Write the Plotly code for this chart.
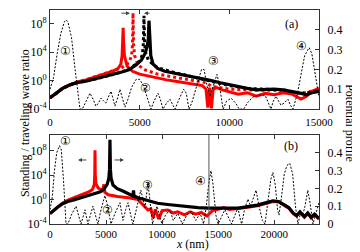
import plotly.graph_objects as go

# ---------------- Panel (a) data ----------------
# potential profile (right axis)
pa_x = [0, 200, 400, 600, 800, 900, 1000, 1200, 1400, 1550, 1670, 1800, 2000, 2230, 2400, 2560, 2700, 2840,
        3000, 3120, 3250, 3400, 3520, 3620, 3750, 3900, 4050, 4180, 4350, 4550, 4800, 5000, 5200, 5400,
        5630, 5800, 6020, 6150, 6300, 6500, 6690, 6850, 6970, 7200, 7450, 7600, 7750, 7900, 8200, 8450,
        8590, 8750, 8920, 9100, 9310, 9450, 9650, 9850, 10100, 10350, 10550, 10800, 11000, 11300, 11600,
        12000, 12200, 12320, 12450, 12600, 12750, 12880, 13050, 13270, 13400, 13550, 13800, 14000, 14200,
        14450, 14600, 14800, 15000]
pa_v = [0.10, 0.16, 0.28, 0.38, 0.44, 0.45, 0.44, 0.36, 0.20, 0.08, 0.0, 0.0, 0.04, 0.08, 0.05, 0.015, 0.03, 0.055,
        0.04, 0.03, 0.06, 0.09, 0.05, 0.015, 0.05, 0.10, 0.05, 0.01, 0.05, 0.11, 0.15, 0.15, 0.12, 0.06,
        0.0, 0.04, 0.08, 0.05, 0.0, 0.03, 0.05, 0.02, 0.0, 0.05, 0.10, 0.08, 0.0, 0.03, 0.12, 0.20,
        0.20, 0.12, 0.065, 0.12, 0.175, 0.12, 0.0, 0.04, 0.055, 0.03, 0.0, 0.0, 0.03, 0.06, 0.07,
        0.07, 0.03, 0.0, 0.04, 0.065, 0.04, 0.02, 0.03, 0.05, 0.02, 0.0, 0.08, 0.18, 0.27,
        0.31, 0.28, 0.17, 0.06]

# black solid ratio (log10 values)
bsa_x = [0, 300, 700, 1100, 1500, 2000, 2500, 3000, 3500, 4000, 4400, 4800, 5100, 5300, 5420, 5480, 5520, 5560,
         5620, 5750, 6000, 6400, 7000, 7500, 8000, 8500, 9000, 9500, 10000, 10500, 11000, 11500, 12000,
         12500, 13000, 13500, 14000, 14300, 14600, 15000]
bsa_e = [-2.4, -1.9, -1.1, -0.6, -0.3, -0.1, 0.2, 0.5, 0.8, 1.2, 1.5, 2.2, 2.9, 3.8, 4.8, 5.8, 8.4, 5.6,
         3.5, 2.3, 1.7, 1.3, 1.0, 0.85, 0.6, 0.3, 0.0, -0.3, -0.6, -0.9, -1.1, -1.3, -1.2,
         -1.2, -1.3, -1.5, -1.8, -2.0, -1.7, -1.5]

# black dotted ratio
bda_x = [0, 300, 700, 1100, 1500, 2000, 2500, 3000, 3500, 4000, 4400, 4800, 5000, 5150, 5200, 5240, 5280,
         5350, 5500, 6000, 6500, 7000, 8000, 9000, 10000, 11000, 12000, 13000, 14000, 15000]
bda_e = [-2.4, -1.9, -1.1, -0.6, -0.3, -0.1, 0.2, 0.5, 0.8, 1.2, 1.6, 2.3, 2.7, 3.6, 5.0, 9.1, 5.0,
         3.7, 2.8, 1.8, 1.4, 1.1, 0.5, -0.1, -0.7, -1.1, -1.2, -1.3, -1.8, -1.5]

# red solid ratio
rsa_x = [0, 300, 700, 1100, 1500, 2000, 2500, 3000, 3500, 3800, 3950, 4020, 4060, 4080, 4100, 4150, 4300,
         4600, 5000, 5500, 6000, 6500, 7000, 7500, 8000, 8500, 8700, 8800, 8900, 9000, 9100, 9300, 9600,
         10000, 10500, 11000, 11500, 12000, 12500, 13000, 13500, 14000, 14300, 14600, 15000]
rsa_e = [-2.4, -1.9, -1.1, -0.6, -0.2, 0.1, 0.5, 0.9, 1.3, 1.7, 2.3, 3.5, 5.5, 7.4, 5.5, 3.5, 2.0,
         1.3, 0.9, 0.6, 0.3, 0.1, -0.1, -0.3, -0.5, -0.7, -1.2, -3.8, -1.0, -3.9, -1.2, -1.0, -1.3,
         -1.6, -1.9, -1.7, -2.2, -1.8, -2.0, -1.7, -1.9, -2.6, -2.2, -1.5, -1.1]

# red dotted ratio
rda_x = [0, 300, 700, 1100, 1500, 2000, 2500, 3000, 3500, 4000, 4400, 4550, 4600, 4630, 4660, 4720, 4900,
         5300, 6000, 7000, 8000, 8700, 9000, 9500, 10000, 11000, 12000, 13000, 14000, 15000]
rda_e = [-2.4, -1.9, -1.1, -0.6, -0.2, 0.1, 0.5, 0.9, 1.3, 1.8, 2.5, 3.5, 5.0, 9.5, 5.0, 3.5, 2.2,
         1.5, 0.9, 0.5, 0.0, -0.3, -0.8, -1.0, -1.2, -1.3, -1.4, -1.4, -1.8, -1.3]

# ---------------- Panel (b) data ----------------
pb_x = [0, 200, 400, 600, 850, 1000, 1200, 1430, 1600, 1900, 2320, 2550, 2770, 2950, 3120, 3250, 3390, 3600,
        3840, 4050, 4280, 4550, 4900, 5150, 5440, 5800, 6240, 6400, 6510, 6750, 6960, 7200, 7400, 7700,
        8100, 8300, 8470, 8740, 8950, 9150, 9350, 9550, 9800, 10000, 10300, 10700, 11000, 11400, 11800,
        12200, 12600, 13000, 13400, 13700, 13950, 14150, 14360, 14550, 14800, 15000, 15300, 15600, 15900,
        16200, 16500, 16770, 17000, 17100, 17350, 17660, 17900, 18100, 18380, 18650, 18950, 19180, 19450,
        19700, 19890, 20100, 20300, 20430, 20650, 20900, 21150, 21400, 21650, 21900, 22120, 22350, 22550,
        22750, 23000, 23200, 23460, 23700, 24000]
pb_v = [0.08, 0.15, 0.30, 0.40, 0.44, 0.42, 0.25, 0.0, 0.0, 0.05, 0.10, 0.05, 0.0, 0.04, 0.08, 0.04, 0.0, 0.05,
        0.10, 0.05, 0.0, 0.08, 0.16, 0.10, 0.0, 0.06, 0.12, 0.06, 0.02, 0.08, 0.12, 0.05, 0.0, 0.08,
        0.19, 0.14, 0.09, 0.23, 0.12, 0.0, 0.06, 0.10, 0.04, 0.0, 0.05, 0.08, 0.02, 0.06, 0.0,
        0.05, 0.07, 0.02, 0.06, 0.0, 0.10, 0.22, 0.30, 0.22, 0.05, 0.0, 0.04, 0.08, 0.04,
        0.0, 0.05, 0.09, 0.02, 0.0, 0.08, 0.14, 0.10, 0.14, 0.19, 0.10, 0.02, 0.0, 0.12,
        0.25, 0.29, 0.22, 0.08, 0.05, 0.15, 0.28, 0.33, 0.34, 0.28, 0.10, 0.0, 0.06, 0.05,
        0.10, 0.19, 0.12, 0.0, 0.05, 0.12]

bb_x = [0, 300, 700, 1100, 1600, 2200, 2800, 3400, 4000, 4500, 4800, 5100, 5250, 5310, 5350, 5390, 5450,
        5620, 6000, 6500, 7000, 7400, 7450, 7500, 7850, 8500, 9000, 9600, 10500, 11400, 12300, 13200,
        14100, 15000, 15800, 16800, 17500, 18500, 19300, 19900, 20400, 20800, 21300, 21700, 22000, 22300,
        22700, 23000, 23300, 23600, 24000]
bb_e = [-2.3, -1.8, -1.2, -0.7, -0.3, 0.0, 0.3, 0.6, 1.0, 1.3, 1.7, 2.5, 3.5, 5.0, 9.8, 5.0, 3.5,
        2.4, 1.8, 1.4, 0.9, 0.6, 1.5, 0.6, 0.3, 0.0, -0.3, -0.6, -0.8, -1.0, -1.2, -1.3,
        -1.4, -1.4, -1.3, -1.4, -1.2, -0.9, -0.5, -0.2, -0.3, -0.7, -1.3, -2.2, -2.6, -2.0,
        -2.8, -2.2, -2.9, -2.4, -3.1]

rb_x = [0, 300, 700, 1100, 1600, 2100, 2600, 3100, 3500, 3800, 3950, 3990, 4015, 4040, 4100, 4300, 4700,
        4800, 4900, 5200, 6000, 7000, 7850, 8300, 8740, 9000, 9200, 9400, 9700, 10000, 10500, 11000,
        11400, 12000, 12500, 13000, 13500, 14000, 14500, 15000, 15500, 16000, 16500, 17000, 17500, 18500,
        19300, 19900, 20400, 20800, 21300, 21700, 22000, 22300, 22700, 23000, 23300, 23600, 24000]
rb_e = [-2.3, -1.8, -1.2, -0.6, -0.1, 0.3, 0.7, 1.0, 1.3, 1.7, 2.5, 4.0, 8.1, 4.0, 2.6, 1.9, 1.5,
        2.5, 1.2, 0.8, 0.5, 0.3, 0.0, -0.8, -1.7, -1.5, -3.0, -1.6, -3.2, -1.8, -1.7, -2.2,
        -2.0, -2.5, -2.0, -2.4, -2.1, -2.7, -1.8, -1.6, -1.3, -1.6, -1.5, -1.5, -1.3, -1.0,
        -0.6, -0.3, -0.4, -0.8, -1.4, -2.3, -2.7, -2.1, -2.9, -2.3, -3.0, -2.5, -3.2]

# axis ticks
xticks_a = [0, 5000, 10000, 15000]
xticks_b = [0, 5000, 10000, 15000, 20000]
ytick_vals = [1e-4, 1e0, 1e4, 1e8]
ytick_text = ["10<sup>-4</sup>", "10<sup>0</sup>", "10<sup>4</sup>", "10<sup>8</sup>"]
ptick_vals = [0, 0.1, 0.2, 0.3, 0.4]
ptick_text = ["0", "0.1", "0.2", "0.3", "0.4"]

RED = "#ff0000"
BLK = "#000000"
FONT = "Liberation Serif"


def p10(e):
    return [10 ** v for v in e]


fig = go.Figure()

DASH = "2px,1.6px"
# panel (a)
fig.add_trace(go.Scatter(x=rsa_x, y=p10(rsa_e), mode="lines", line=dict(color=RED, width=3), xaxis="x", yaxis="y"))
fig.add_trace(go.Scatter(x=rda_x, y=p10(rda_e), mode="lines", line=dict(color=RED, width=3, dash="dot"), xaxis="x", yaxis="y"))
fig.add_trace(go.Scatter(x=bda_x, y=p10(bda_e), mode="lines", line=dict(color=BLK, width=3, dash="dot"), xaxis="x", yaxis="y"))
fig.add_trace(go.Scatter(x=bsa_x, y=p10(bsa_e), mode="lines", line=dict(color=BLK, width=3.2), xaxis="x", yaxis="y"))
fig.add_trace(go.Scatter(x=pa_x, y=pa_v, mode="lines", line=dict(color=BLK, width=1, dash=DASH), xaxis="x", yaxis="y2"))

# panel (b)
fig.add_trace(go.Scatter(x=rb_x, y=p10(rb_e), mode="lines", line=dict(color=RED, width=3), xaxis="x2", yaxis="y3"))
fig.add_trace(go.Scatter(x=bb_x, y=p10(bb_e), mode="lines", line=dict(color=BLK, width=3.2), xaxis="x2", yaxis="y3"))
fig.add_trace(go.Scatter(x=pb_x, y=pb_v, mode="lines", line=dict(color=BLK, width=1, dash=DASH), xaxis="x2", yaxis="y4"))

xfont = dict(family=FONT, size=11, color="black")
yfont = dict(family=FONT, size=12, color="black")
common_x = dict(showline=True, linecolor="#333", linewidth=1, mirror="ticks", ticks="inside", ticklen=4,
                tickcolor="#333", showgrid=False, zeroline=False, tickfont=xfont)
common_y = dict(type="log", showline=True, linecolor="#333", linewidth=1, ticks="inside", ticklen=4,
                tickcolor="#333", showgrid=False, zeroline=False, tickfont=yfont,
                tickvals=ytick_vals, ticktext=ytick_text)
common_p = dict(showline=True, linecolor="#333", linewidth=1, ticks="inside", ticklen=4, tickcolor="#333",
                showgrid=False, zeroline=False, tickfont=yfont, range=[0, 0.5], side="right",
                tickvals=ptick_vals, ticktext=ptick_text, ticklabelstandoff=5)

fig.update_layout(
    width=360, height=252,
    margin=dict(l=42, r=49, t=2, b=36),
    paper_bgcolor="white", plot_bgcolor="white",
    showlegend=False,
    font=dict(family=FONT, size=12, color="black"),
    xaxis=dict(**common_x, domain=[0, 1], anchor="y", range=[0, 15000], ticklabelstandoff=3,
               tickvals=xticks_a, ticktext=[str(v) for v in xticks_a]),
    yaxis=dict(**common_y, domain=[0.537, 1], anchor="x", range=[-4, 9.9]),
    yaxis2=dict(**common_p, overlaying="y", anchor="x"),
    xaxis2=dict(**common_x, domain=[0, 1], anchor="y3", range=[0, 24000],
                tickvals=xticks_b, ticktext=[str(v) for v in xticks_b]),
    yaxis3=dict(**common_y, domain=[0, 0.416], anchor="x2", range=[-4, 10.6]),
    yaxis4=dict(**common_p, overlaying="y3", anchor="x2"),
)

# vertical line in (b)
fig.add_shape(type="line", xref="x2", yref="y3 domain", x0=14180, x1=14180, y0=0, y1=1,
              line=dict(color="#555", width=1))

annots = []
lbl = dict(font=dict(family=FONT, size=12, color="black"), showarrow=False)
annots += [
    dict(x=890, y=4.2, xref="x", yref="y", text="①", **lbl),
    dict(x=5300, y=-1.0, xref="x", yref="y", text="②", **lbl),
    dict(x=9090, y=2.8, xref="x", yref="y", text="③", **lbl),
    dict(x=14000, y=4.9, xref="x", yref="y", text="④", **lbl),
    dict(x=13440, y=8.0, xref="x", yref="y", text="(a)", **lbl),
    dict(x=1340, y=9.6, xref="x2", yref="y3", text="①", **lbl),
    dict(x=5170, y=-1.7, xref="x2", yref="y3", text="②", **lbl),
    dict(x=8740, y=2.4, xref="x2", yref="y3", text="③", **lbl),
    dict(x=13470, y=3.0, xref="x2", yref="y3", text="④", **lbl),
    dict(x=21500, y=8.8, xref="x2", yref="y3", text="(b)", **lbl),
]
arr = dict(text="", showarrow=True, arrowhead=2, arrowsize=0.8, arrowwidth=1, arrowcolor="#444")
annots += [
    dict(x=4460, y=9.45, ax=3900, ay=9.45, xref="x", yref="y", axref="x", ayref="y", **arr),
    dict(x=5240, y=9.45, ax=5630, ay=9.45, xref="x", yref="y", axref="x", ayref="y", **arr),
    dict(x=2500, y=6.5, ax=3390, ay=6.5, xref="x2", yref="y3", axref="x2", ayref="y3", **arr),
    dict(x=6600, y=6.5, ax=5620, ay=6.5, xref="x2", yref="y3", axref="x2", ayref="y3", **arr),
]
annots += [
    dict(x=-0.126, y=0.472, xref="paper", yref="paper", text="Standing / traveling wave ratio",
         textangle=-90, font=dict(family=FONT, size=12, color="black"), showarrow=False),
    dict(x=1.148, y=0.472, xref="paper", yref="paper", text="Potential profile",
         textangle=90, font=dict(family=FONT, size=12, color="black"), showarrow=False),
    dict(x=0.53, y=-0.136, xref="paper", yref="paper", text="<i>x</i> (nm)",
         font=dict(family=FONT, size=12, color="black"), showarrow=False),
]
fig.update_layout(annotations=annots)

fig.write_html("out.html")
